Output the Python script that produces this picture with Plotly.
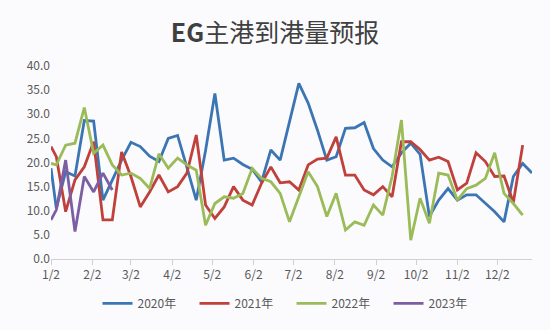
import pandas as pd
import plotly.graph_objects as go

# ---- data ----
month_ticks = ["2020-%02d-02" % m for m in range(1, 13)]
month_labels = ["%d/2" % m for m in range(1, 13)]

v2020 = [18.8, 10.5, 18.1, 17.2, 28.7, 28.6, 12.2, 16.5, 20.5, 24.2,
         23.3, 21.3, 20.2, 25.0, 25.6, 19.0, 12.2, 22.5, 34.3, 20.5,
         20.9, 19.6, 18.6, 16.0, 22.6, 20.5, 28.3, 36.4, 32.3, 26.7,
         20.5, 21.2, 27.1, 27.2, 28.3, 22.9, 20.5, 19.1, 22.0, 24.0,
         21.7, 8.8, 12.2, 14.6, 12.2, 13.3, 13.3, 11.5, 9.8, 7.7,
         17.1, 19.8, 17.8]
v2021 = [23.3, 21.2, 9.8, 16.4, 19.1, 24.3, 8.1, 8.1, 22.2, 17.1,
         10.8, 13.9, 17.4, 13.9, 15.0, 17.8, 25.7, 11.2, 8.4, 10.8,
         15.0, 12.2, 11.2, 15.7, 19.1, 15.8, 16.0, 14.3, 19.5, 20.7,
         20.9, 25.3, 17.4, 17.4, 14.3, 13.3, 15.0, 12.9, 24.3, 24.3,
         22.7, 20.5, 21.1, 20.2, 14.3, 15.7, 22.0, 20.2, 17.1, 17.2,
         11.7, 23.6]
v2022 = [19.8, 19.5, 23.6, 24.0, 31.4, 21.9, 23.6, 19.5, 17.4, 17.8,
         16.7, 14.6, 21.8, 18.8, 20.9, 19.5, 18.4, 7.0, 11.5, 12.9,
         12.6, 13.6, 18.8, 16.7, 16.0, 13.6, 7.7, 12.9, 18.1, 15.0,
         8.8, 13.6, 6.0, 7.7, 7.0, 11.2, 9.1, 17.1, 28.8, 3.9,
         12.6, 7.4, 17.8, 17.4, 12.2, 14.6, 15.3, 16.7, 22.0, 13.6,
         11.5, 9.1]
v2023 = [8.1, 10.2, 20.5, 5.7, 17.1, 13.9, 17.8, 14.3]

series = [("2020年", v2020, "#3c75b3"),
          ("2021年", v2021, "#c0403b"),
          ("2022年", v2022, "#9bbb59"),
          ("2023年", v2023, "#7d5ea3")]

# weekly report dates (first point 1/2, then weekly), on a common year axis
dates = [pd.Timestamp("2020-01-02")] + list(
    pd.date_range("2020-01-06", periods=len(v2020) - 1, freq="7D"))

fig = go.Figure()
for name, vals, col in series:
    fig.add_trace(go.Scatter(x=dates[:len(vals)], y=vals, mode="lines",
                             name=name, line=dict(color=col, width=2.8)))

font_family = "Noto Sans CJK SC, Noto Sans, sans-serif"
fig.update_layout(
    width=550, height=330,
    margin=dict(l=51, r=18, t=66, b=71),
    paper_bgcolor="#fbfbfd", plot_bgcolor="#fbfbfd",
    font=dict(family=font_family, size=12, color="#595959"),
    title=dict(text="<b>EG</b>主港到港量预报", x=0.5, xanchor="center",
               y=0.9, yanchor="middle",
               font=dict(size=25, color="#404040", family=font_family)),
    showlegend=True,
    legend=dict(orientation="h", x=0.5, xanchor="center", y=-0.23,
                yanchor="middle", font=dict(size=12, color="#595959"),
                entrywidth=52, bgcolor="rgba(0,0,0,0)"),
    xaxis=dict(type="date", range=["2020-01-02", "2020-12-28"],
               tickvals=month_ticks, ticktext=month_labels,
               showgrid=False, zeroline=False, showline=True,
               linecolor="#d0d0d0", linewidth=1,
               ticks="outside", ticklen=5, tickcolor="#d0d0d0",
               tickfont=dict(size=12, color="#595959")),
    yaxis=dict(range=[0, 40], dtick=5, tickformat=".1f",
               showgrid=False, zeroline=False, showline=False,
               ticks="", tickfont=dict(size=12, color="#595959")),
)

fig.write_html("out.html")
